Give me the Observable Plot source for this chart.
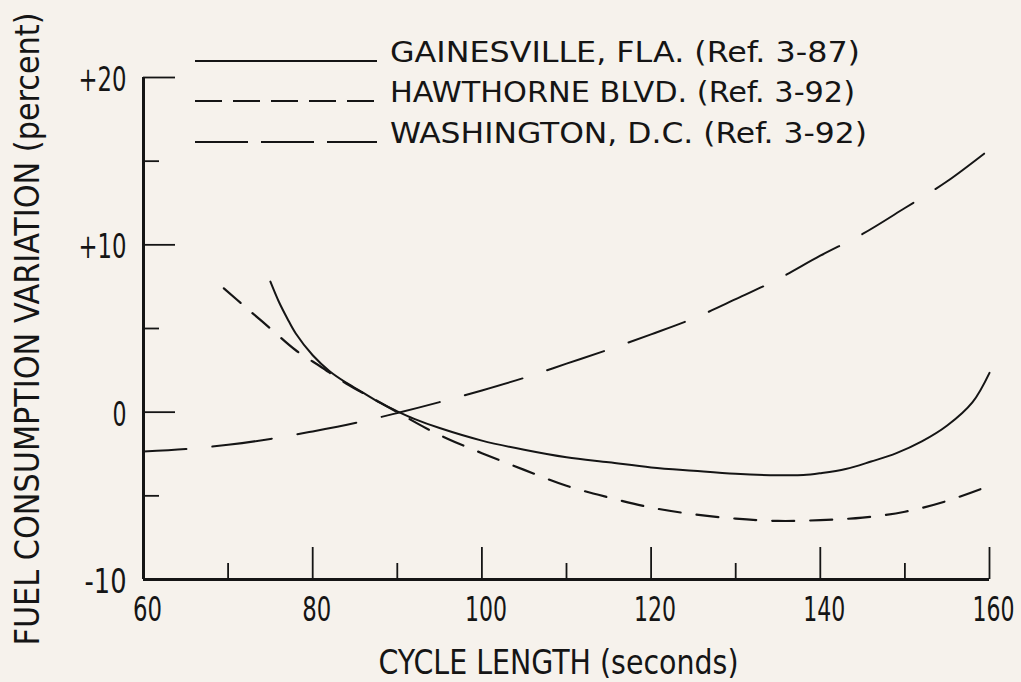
<!DOCTYPE html>
<html><head><meta charset="utf-8">
<script src="https://cdn.jsdelivr.net/npm/d3@7"></script>
<script src="https://cdn.jsdelivr.net/npm/@observablehq/plot@0.6"></script>
<style>
html,body{margin:0;padding:0;background:#f6f2ec;}
#wrap{position:relative;width:1021px;height:682px;overflow:hidden;}
#legend{position:absolute;left:0;top:0;pointer-events:none;}
</style></head>
<body><div id="wrap"></div>
<script>
// ---- data ----
const gainesvilleX = [75,76,77,78,80,82,84,86,88,90,92,95,100,105,110,115,120,125,130,135,138,140,143,146,149,152,155,158,160];
const gainesvilleY = [7.8,6.6,5.6,4.7,3.4,2.45,1.75,1.15,0.55,0.05,-0.4,-0.95,-1.7,-2.25,-2.7,-3.0,-3.3,-3.5,-3.68,-3.77,-3.76,-3.65,-3.4,-2.95,-2.45,-1.75,-0.8,0.6,2.35];
const hawthorneX = [69.5,72,75,78,81,84,87,90,93,96,100,105,110,115,120,125,130,135,140,145,150,155,160];
const hawthorneY = [7.4,6.3,5.0,3.7,2.7,1.7,0.85,0,-0.85,-1.6,-2.45,-3.45,-4.4,-5.1,-5.7,-6.1,-6.36,-6.5,-6.45,-6.3,-5.95,-5.3,-4.4];
const washingtonX = [60,65,70,75,80,85,90,95,100,105,110,115,120,125,130,135,140,145,150,155,160];
const washingtonY = [-2.35,-2.2,-1.95,-1.6,-1.15,-0.65,-0.05,0.6,1.3,2.05,2.9,3.75,4.65,5.6,6.75,7.95,9.35,10.65,12.2,13.8,15.7];

const seriesNames = ["GAINESVILLE, FLA. (Ref. 3-87)", "HAWTHORNE BLVD. (Ref. 3-92)", "WASHINGTON, D.C. (Ref. 3-92)"];
const xTickLabels = [60, 80, 100, 120, 140, 160];
const xMajorTicks = [80, 100, 120, 140, 160];
const xMinorTicks = [70, 90, 110, 130, 150];
const yTickLabels = [20, 10, 0, -10];
const yMajorTicks = [20, 10, 0];
const yMinorTicks = [15, 5, -5];
const xTitle = "CYCLE LENGTH (seconds)";
const yTitle = "FUEL CONSUMPTION VARIATION (percent)";

// ---- build tables ----
const toRows = (xs, ys) => xs.map((x, i) => ({x, y: ys[i]}));
const gainesville = toRows(gainesvilleX, gainesvilleY);
const hawthorne = toRows(hawthorneX, hawthorneY);
const washington = toRows(washingtonX, washingtonY);

const FONT = '"Liberation Sans Narrow","DejaVu Sans Condensed","Roboto Condensed","DejaVu Sans",sans-serif';
const INK = "#151515";
const W = 1021, H = 682;
const mL = 143, mR = 32, mT = 77, mB = 103;
const frameW = W - mL - mR, frameH = H - mT - mB;
const fmtY = d => d > 0 ? "+" + d : String(d);

const chart = Plot.plot({
  width: W, height: H,
  marginLeft: mL, marginRight: mR, marginTop: mT, marginBottom: mB,
  style: {background: "transparent", fontFamily: FONT, color: INK},
  x: {domain: [60, 160], axis: null},
  y: {domain: [-10, 20], axis: null},
  marks: [
    // frame (left & bottom)
    Plot.ruleX([60], {stroke: INK, strokeWidth: 3}),
    Plot.ruleY([-10], {stroke: INK, strokeWidth: 3}),
    // inward ticks
    Plot.ruleX(xMajorTicks, {x: d => d, stroke: INK, strokeWidth: 1.8, insetTop: frameH - 32}),
    Plot.ruleX(xMinorTicks, {x: d => d, stroke: INK, strokeWidth: 1.8, insetTop: frameH - 16}),
    Plot.ruleY(yMajorTicks, {y: d => d, stroke: INK, strokeWidth: 1.8, insetRight: frameW - 32}),
    Plot.ruleY(yMinorTicks, {y: d => d, stroke: INK, strokeWidth: 1.8, insetRight: frameW - 16}),
    // tick labels
    Plot.text(xTickLabels, {x: d => d, text: d => String(d), frameAnchor: "bottom", lineAnchor: "top", dy: 18, dx: 4, fontSize: 33, fill: INK}),
    Plot.text(yTickLabels, {y: d => d, text: fmtY, frameAnchor: "left", textAnchor: "end", dx: -17, dy: 3, fontSize: 33, fill: INK}),
    // axis titles
    Plot.text([xTitle], {frameAnchor: "bottom", textAnchor: "start", dy: 94, dx: 378 - (mL + frameW / 2), fontSize: 33, fill: INK}),
    Plot.text([yTitle], {frameAnchor: "left", textAnchor: "start", dx: -115, dy: 645 - (mT + frameH / 2), rotate: -90, fontSize: 33, fill: INK}),
    // curves
    Plot.line(gainesville, {x: "x", y: "y", curve: "catmull-rom", stroke: INK, strokeWidth: 2}),
    Plot.line(hawthorne, {x: "x", y: "y", curve: "catmull-rom", stroke: INK, strokeWidth: 2.2, strokeDasharray: "22,16"}),
    Plot.line(washington, {x: "x", y: "y", curve: "catmull-rom", stroke: INK, strokeWidth: 2, strokeDasharray: "60,26", strokeDashoffset: 17})
  ]
});

const wrap = document.getElementById("wrap");
wrap.appendChild(chart);

// condense texts to the reference widths (narrow typeface)
const fitWidth = {};
fitWidth[xTitle] = 360;
fitWidth[yTitle] = 633;
xTickLabels.forEach(v => { fitWidth[String(v)] = String(v).length === 3 ? 42 : 29; });
yTickLabels.forEach(v => { const s = fmtY(v); fitWidth[s] = s === "0" ? 14 : (s[0] === "+" ? 48 : 42); });
const svgEl = chart.tagName.toLowerCase() === "svg" ? chart : chart.querySelector("svg");
d3.select(svgEl).selectAll("text").each(function() {
  const w = fitWidth[this.textContent];
  if (w) { this.setAttribute("textLength", w); this.setAttribute("lengthAdjust", "spacingAndGlyphs"); }
});

// legend overlay
const legendDash = [null, "27,11", "53,13"];
const legendWidths = [470, 465, 477];
const legendRowY = [61, 101, 142];
const leg = d3.select(wrap).append("svg").attr("id", "legend").attr("width", W).attr("height", H);
seriesNames.forEach((name, i) => {
  leg.append("line").attr("x1", 195).attr("x2", 377).attr("y1", legendRowY[i]).attr("y2", legendRowY[i])
    .attr("stroke", INK).attr("stroke-width", 2.2).attr("stroke-dasharray", legendDash[i]);
  leg.append("text").attr("x", 390).attr("y", legendRowY[i] + 1).text(name)
    .attr("font-family", FONT).attr("font-size", 28).attr("fill", INK)
    .attr("textLength", legendWidths[i]).attr("lengthAdjust", "spacingAndGlyphs");
});
</script>
</body></html>
